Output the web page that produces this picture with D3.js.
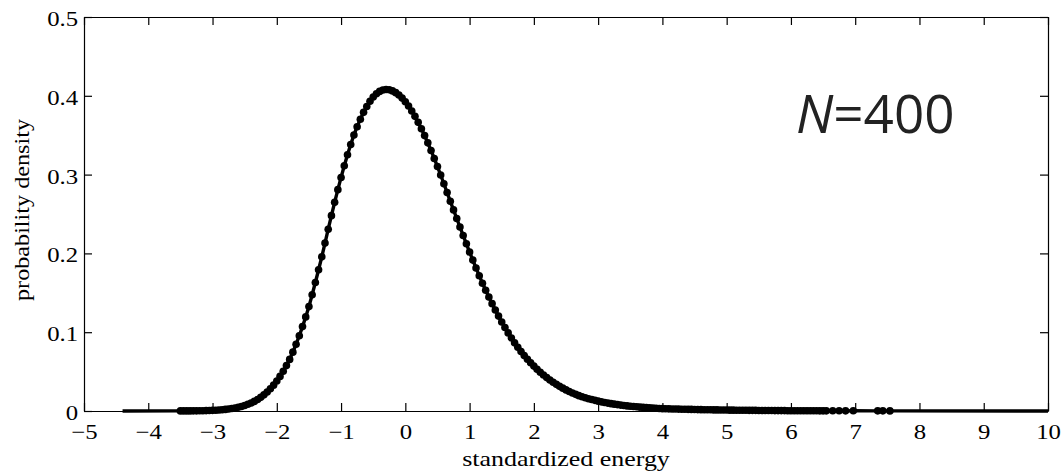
<!DOCTYPE html>
<html>
<head>
<meta charset="utf-8">
<script src="https://cdn.jsdelivr.net/npm/d3@7"></script>
<style>
  body { margin: 0; background: #fff; }
  svg text { font-family: "Liberation Serif", "Times New Roman", serif; }
</style>
</head>
<body>
<div id="chart"></div>
<script>
const energy = [
  -3.50, -3.45, -3.40, -3.35, -3.30, -3.25, -3.20, -3.15, -3.10, -3.05,
  -3.00, -2.95, -2.90, -2.85, -2.80, -2.75, -2.70, -2.65, -2.60, -2.55,
  -2.50, -2.45, -2.40, -2.35, -2.30, -2.25, -2.20, -2.15, -2.10, -2.05,
  -2.00, -1.95, -1.90, -1.85, -1.80, -1.75, -1.70, -1.65, -1.60, -1.55,
  -1.50, -1.45, -1.40, -1.35, -1.30, -1.25, -1.20, -1.15, -1.10, -1.05,
  -1.00, -0.95, -0.90, -0.85, -0.80, -0.75, -0.70, -0.65, -0.60, -0.55,
  -0.50, -0.45, -0.40, -0.35, -0.30, -0.25, -0.20, -0.15, -0.10, -0.05,
  0.00, 0.05, 0.10, 0.15, 0.20, 0.25, 0.30, 0.35, 0.40, 0.45,
  0.50, 0.55, 0.60, 0.65, 0.70, 0.75, 0.80, 0.85, 0.90, 0.95,
  1.00, 1.05, 1.10, 1.15, 1.20, 1.25, 1.30, 1.35, 1.40, 1.45,
  1.50, 1.55, 1.60, 1.65, 1.70, 1.75, 1.80, 1.85, 1.90, 1.95,
  2.00, 2.05, 2.10, 2.15, 2.20, 2.25, 2.30, 2.35, 2.40, 2.45,
  2.50, 2.55, 2.60, 2.65, 2.70, 2.75, 2.80, 2.85, 2.90, 2.95,
  3.00, 3.05, 3.10, 3.15, 3.20, 3.25, 3.30, 3.35, 3.40, 3.45,
  3.50, 3.55, 3.60, 3.65, 3.70, 3.75, 3.80, 3.85, 3.90, 3.95,
  4.00, 4.05, 4.10, 4.15, 4.20, 4.25, 4.30, 4.35, 4.40, 4.45,
  4.50, 4.55, 4.60, 4.65, 4.70, 4.75, 4.80, 4.85, 4.90, 4.95,
  5.00, 5.05, 5.10, 5.15, 5.20, 5.25, 5.30, 5.35, 5.40, 5.45,
  5.50, 5.55, 5.60, 5.65, 5.70, 5.75, 5.80, 5.85, 5.90, 5.95,
  6.00, 6.05, 6.10, 6.15, 6.20, 6.25, 6.30, 6.35, 6.40, 6.45,
  6.50, 6.55, 6.65, 6.75, 6.85, 6.97, 7.35, 7.43, 7.54
];

const density = [
  0.0001, 0.0001, 0.0001, 0.0001, 0.0002, 0.0002, 0.0003, 0.0004, 0.0005, 0.0006,
  0.0008, 0.0010, 0.0013, 0.0016, 0.0020, 0.0025, 0.0031, 0.0039, 0.0047, 0.0058,
  0.0070, 0.0085, 0.0102, 0.0122, 0.0146, 0.0173, 0.0205, 0.0241, 0.0282, 0.0328,
  0.0381, 0.0439, 0.0504, 0.0576, 0.0655, 0.0747, 0.0847, 0.0955, 0.1071, 0.1194,
  0.1325, 0.1475, 0.1631, 0.1792, 0.1956, 0.2131, 0.2307, 0.2479, 0.2648, 0.2809,
  0.2964, 0.3112, 0.3252, 0.3382, 0.3503, 0.3608, 0.3703, 0.3790, 0.3865, 0.3930,
  0.3984, 0.4026, 0.4056, 0.4074, 0.4080, 0.4076, 0.4062, 0.4040, 0.4010, 0.3971,
  0.3924, 0.3870, 0.3808, 0.3739, 0.3663, 0.3582, 0.3495, 0.3403, 0.3306, 0.3205,
  0.3102, 0.2995, 0.2884, 0.2773, 0.2661, 0.2552, 0.2443, 0.2335, 0.2228, 0.2122,
  0.2017, 0.1915, 0.1815, 0.1717, 0.1622, 0.1533, 0.1446, 0.1362, 0.1281, 0.1204,
  0.1130, 0.1059, 0.0991, 0.0927, 0.0865, 0.0809, 0.0756, 0.0705, 0.0657, 0.0612,
  0.0570, 0.0530, 0.0492, 0.0457, 0.0424, 0.0393, 0.0365, 0.0338, 0.0313, 0.0290,
  0.0268, 0.0248, 0.0229, 0.0211, 0.0195, 0.0181, 0.0168, 0.0156, 0.0145, 0.0135,
  0.0125, 0.0116, 0.0108, 0.0100, 0.0093, 0.0087, 0.0081, 0.0075, 0.0070, 0.0065,
  0.0061, 0.0057, 0.0053, 0.0049, 0.0046, 0.0043, 0.0040, 0.0037, 0.0034, 0.0032,
  0.0030, 0.0028, 0.0027, 0.0026, 0.0025, 0.0024, 0.0023, 0.0022, 0.0021, 0.0020,
  0.0019, 0.0018, 0.0017, 0.0016, 0.0016, 0.0015, 0.0014, 0.0014, 0.0013, 0.0012,
  0.0012, 0.0011, 0.0011, 0.0010, 0.0010, 0.0009, 0.0009, 0.0008, 0.0008, 0.0008,
  0.0007, 0.0007, 0.0006, 0.0006, 0.0006, 0.0005, 0.0005, 0.0005, 0.0005, 0.0004,
  0.0004, 0.0004, 0.0004, 0.0003, 0.0003, 0.0003, 0.0003, 0.0003, 0.0003, 0.0002,
  0.0002, 0.0002, 0.0003, 0.0003, 0.0002, 0.0003, 0.0002, 0.0002, 0.0001
];

// The solid curve runs past the sampled dots at both ends
const curveStart = [-4.4, 0];
const curveEnd = [10, 0];

// Axis ticks
const xTicks = [-5, -4, -3, -2, -1, 0, 1, 2, 3, 4, 5, 6, 7, 8, 9, 10];
const xTickLabels = ["\u22125", "\u22124", "\u22123", "\u22122", "\u22121", "0", "1", "2", "3", "4", "5", "6", "7", "8", "9", "10"];
const yTicks = [0, 0.1, 0.2, 0.3, 0.4, 0.5];
const yTickLabels = ["0", "0.1", "0.2", "0.3", "0.4", "0.5"];

// Set svg size and plot box
const svgWidth = 1064;
const svgHeight = 472;
const plot = { left: 84, right: 1048, top: 17, bottom: 411 };

// the source figure's text is a bit wider than plain Times
const stretch = 1.18;

const svg = d3.select("#chart")
              .append("svg")
              .attr("width", svgWidth)
              .attr("height", svgHeight);

const xScale = d3.scaleLinear()
                 .domain([-5, 10])
                 .range([plot.left, plot.right]);

const yScale = d3.scaleLinear()
                 .domain([0, 0.5])
                 .range([plot.bottom, plot.top]);

// Axes with inward ticks on all four sides
const tickLen = 8;

svg.append("g")
   .attr("transform", `translate(0, ${plot.bottom})`)
   .call(d3.axisBottom(xScale)
           .tickValues(xTicks)
           .tickFormat((d, i) => xTickLabels[i])
           .tickSizeInner(-tickLen)
           .tickSizeOuter(0)
           .tickPadding(13))
   .call(g => g.selectAll("text")
               .attr("font-size", 21)
               .attr("fill", "#000")
               .attr("transform", `scale(${stretch}, 1)`));

svg.append("g")
   .attr("transform", `translate(0, ${plot.top})`)
   .call(d3.axisTop(xScale)
           .tickValues(xTicks)
           .tickFormat("")
           .tickSizeInner(-tickLen)
           .tickSizeOuter(0));

svg.append("g")
   .attr("transform", `translate(${plot.left}, 0)`)
   .call(d3.axisLeft(yScale)
           .tickValues(yTicks)
           .tickFormat((d, i) => yTickLabels[i])
           .tickSizeInner(-tickLen)
           .tickSizeOuter(0)
           .tickPadding(5))
   .call(g => g.selectAll("text")
               .attr("font-size", 21)
               .attr("dy", "0.4em")
               .attr("fill", "#000")
               .attr("transform", `scale(${stretch}, 1)`));

svg.append("g")
   .attr("transform", `translate(${plot.right}, 0)`)
   .call(d3.axisRight(yScale)
           .tickValues(yTicks)
           .tickFormat("")
           .tickSizeInner(-tickLen)
           .tickSizeOuter(0));

svg.selectAll(".domain, .tick line").attr("stroke", "#000").attr("stroke-width", 1.2);

// Curve and dots
const points = energy.map((e, i) => [e, density[i]]);
const curve = [curveStart].concat(points, [curveEnd]);

const line = d3.line()
               .x(d => xScale(d[0]))
               .y(d => yScale(d[1]));

svg.append("path")
   .datum(curve)
   .attr("d", line)
   .attr("fill", "none")
   .attr("stroke", "#000")
   .attr("stroke-width", 3.4)
   .attr("stroke-linejoin", "round");

svg.append("g")
   .selectAll("circle")
   .data(points)
   .enter()
   .append("circle")
   .attr("cx", d => xScale(d[0]))
   .attr("cy", d => yScale(d[1]))
   .attr("r", 3.8)
   .attr("fill", "#000");

// Axis titles
svg.append("text")
   .attr("transform", `translate(${(plot.left + plot.right) / 2}, 466) scale(${stretch}, 1)`)
   .attr("text-anchor", "middle")
   .attr("font-size", 22)
   .text("standardized energy");

svg.append("text")
   .attr("transform", `translate(29, ${(plot.top + plot.bottom) / 2 - 4}) rotate(-90) scale(1.1, 1)`)
   .attr("text-anchor", "middle")
   .attr("font-size", 22)
   .text("probability density");

// Size label
const nLabel = svg.append("text")
                  .attr("x", 796)
                  .attr("y", 133)
                  .attr("font-size", 53)
                  .attr("fill", "#222")
                  .style("font-family", "'Open Sans', sans-serif");
nLabel.append("tspan").attr("font-style", "italic").text("N");
nLabel.append("tspan").text("=400");
</script>
</body>
</html>
